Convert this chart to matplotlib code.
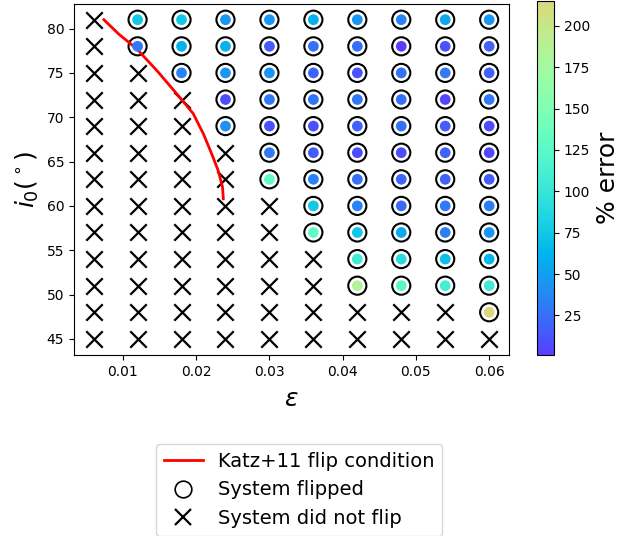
import numpy as np
import matplotlib
matplotlib.use("Agg")
import matplotlib.pyplot as plt
from matplotlib.colors import ListedColormap
from matplotlib.lines import Line2D

# Grid of simulated systems
eps_values = [0.006, 0.012, 0.018, 0.024, 0.030, 0.036, 0.042, 0.048, 0.054, 0.060]
i0_values = [81, 78, 75, 72, 69, 66, 63, 60, 57, 54, 51, 48, 45]

nan = np.nan
# Percent error of flipped systems (NaN = system did not flip); rows follow i0_values
err_81 = [nan, 75, 75, 45, 45, 60, 45, 35, 55, 45]
err_78 = [nan, 30, 60, 60, 15, 25, 25, 1.2, 10, 18]
err_75 = [nan, nan, 35, 45, 45, 20, 12, 25, 30, 18]
err_72 = [nan, nan, nan, 8, 30, 28, 28, 25, 5, 30]
err_69 = [nan, nan, nan, 40, 10, 10, 18, 25, 15, 7]
err_66 = [nan, nan, nan, nan, 30, 15, 8, 8, 18, 6]
err_63 = [nan, nan, nan, nan, 130, 35, 25, 22, 18, 15]
err_60 = [nan, nan, nan, nan, nan, 75, 35, 22, 30, 32]
err_57 = [nan, nan, nan, nan, nan, 130, 75, 55, 32, 45]
err_54 = [nan, nan, nan, nan, nan, nan, 105, 90, 70, 65]
err_51 = [nan, nan, nan, nan, nan, nan, 185, 125, 110, 105]
err_48 = [nan, nan, nan, nan, nan, nan, nan, nan, nan, 215]
err_45 = [nan, nan, nan, nan, nan, nan, nan, nan, nan, nan]

# Katz+11 flip condition curve
katz_eps = [0.0074, 0.0094, 0.0119, 0.0147, 0.0178, 0.0196, 0.0210, 0.0221, 0.0230, 0.0236, 0.0237]
katz_i0 = [81.0, 79.4, 77.7, 75.2, 72.2, 70.4, 68.1, 65.9, 64.0, 62.1, 60.8]

err = np.array([err_81, err_78, err_75, err_72, err_69, err_66, err_63,
                err_60, err_57, err_54, err_51, err_48, err_45], dtype=float)
E, I = np.meshgrid(eps_values, i0_values)
flipped = ~np.isnan(err)

cmap = ListedColormap(plt.cm.rainbow(np.linspace(0.08, 0.68, 256)))

fig = plt.figure(figsize=(6.26, 5.36), dpi=100)
ax = fig.add_axes([0.118, 0.338, 0.695, 0.655])
cax = fig.add_axes([0.858, 0.338, 0.027, 0.66])

ax.plot(katz_eps, katz_i0, color="red", lw=2, zorder=3)
ax.scatter(E[~flipped], I[~flipped], marker="x", s=140, color="black", linewidths=1.6, zorder=2)
ax.scatter(E[flipped], I[flipped], marker="o", s=170, facecolors="none",
           edgecolors="black", linewidths=1.5, zorder=2)
sc = ax.scatter(E[flipped], I[flipped], c=err[flipped], cmap=cmap, s=60,
                edgecolors="none", zorder=4)

ax.set_yticks([45, 50, 55, 60, 65, 70, 75, 80])
ax.set_xticks([0.01, 0.02, 0.03, 0.04, 0.05, 0.06])
ax.tick_params(labelsize=10)
ax.set_xlabel(r"$\epsilon$", fontsize=18, labelpad=6)
ax.set_ylabel(r"$i_0(^\circ)$", fontsize=18)

cb = fig.colorbar(sc, cax=cax)
cb.set_label("% error", fontsize=18)
cb.set_ticks([25, 50, 75, 100, 125, 150, 175, 200])
cb.ax.tick_params(labelsize=10)

handles = [
    Line2D([], [], color="red", lw=2, label="Katz+11 flip condition"),
    Line2D([], [], marker="o", ls="none", mfc="none", mec="black", ms=12, mew=1.2,
           label="System flipped"),
    Line2D([], [], marker="x", ls="none", color="black", ms=11, mew=1.6,
           label="System did not flip"),
]
fig.legend(handles=handles, loc="upper center", bbox_to_anchor=(0.478, 0.19),
           fontsize=14, handlelength=2, borderpad=0.4, labelspacing=0.5)

fig.savefig("out.png", dpi=100)
